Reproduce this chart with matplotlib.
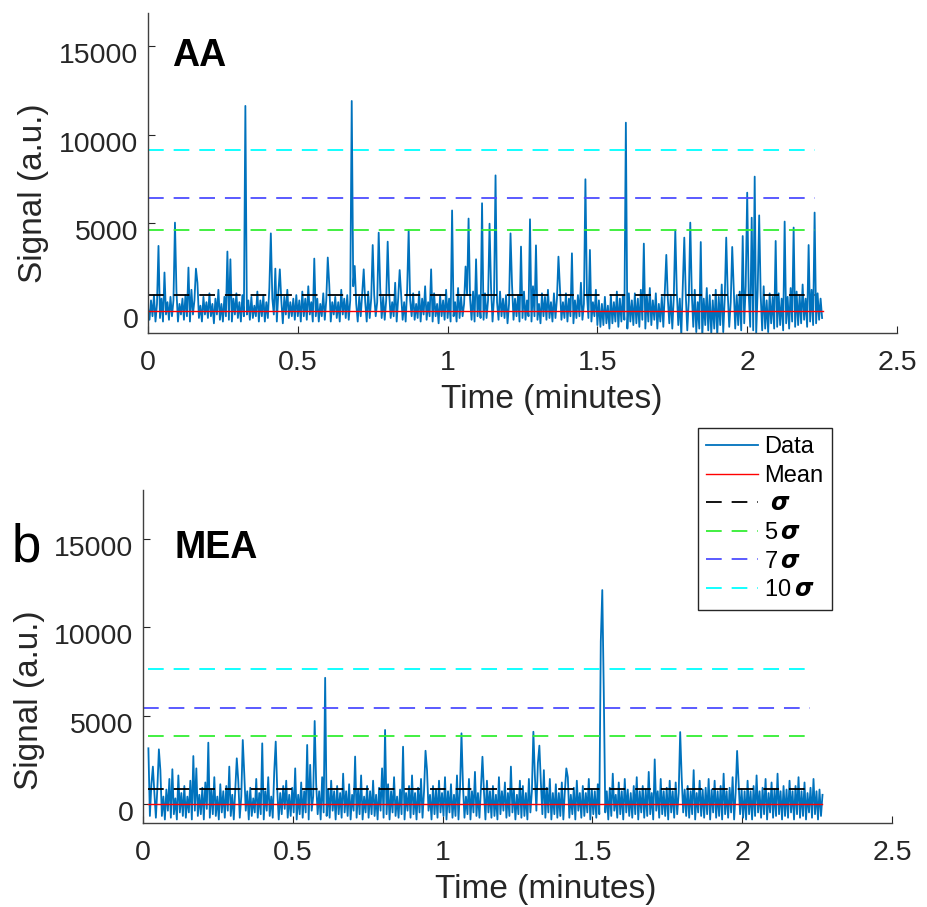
import numpy as np
import matplotlib.pyplot as plt
from matplotlib.transforms import ScaledTranslation

plt.rcParams['font.family'] = ['Liberation Sans', 'DejaVu Sans']
plt.rcParams['mathtext.fontset'] = 'dejavusans'
plt.rcParams['path.simplify'] = False  # keep every sample of the noisy traces

# sampling step of the traces (minutes)
dt = 0.005

# ---- panel a (AA) ----
a_t0 = 0.0
a_noise = [
    200, -500, 600, -300, 900, -600, 400, 1300, -400, 700, -600, 1500, -200, 500, -500, 800, -300, 600, -400, 1100, -600, 400, -200, 700, -500,
    900, -300, 500, -600, 1200, -200, 600, -500, 1600, -400, 300, -600, 800, -200, 500, -400, 1000, -300, 400, -700, 700, -200, 1200, -500, 400,
    -600, 800, -300, 1400, -500, 400, -600, 700, -200, 1000, -400, 500, -600, 900, -300, 1700, -200, 600, -500, 800, -400, 300, -300, 1100, -600,
    600, -300, 900, -600, 500, -400, 1300, -500, 700, -200, 400, -600, 1000, -300, 600, -700, 800, -200, 1200, -400, 500, -300, 700, -500, 900,
    -300, 600, -600, 1100, -300, 700, -500, 1400, -200, 500, -600, 900, -300, 700, -600, 400, -300, 1000, -500, 600, -300, 1500, -600, 500, -200,
    800, -400, 500, -600, 1200, -200, 700, -400, 900, -500, 600, -200, 1400, -500, 400, -600, 800, -300, 1000, -300, 500, -600, 1100, -400, 700,
    -500, 900, -300, 500, -600, 1300, -400, 800, -500, 600, -200, 1000, -400, 500, -300, 1600, -600, 700, -200, 900, -500, 500, -600, 1200, -300,
    600, -300, 1000, -500, 400, -400, 1100, -600, 700, -200, 1400, -500, 500, -300, 800, -600, 1000, -300, 400, -700, 900, -300, 600, -500, 1200,
    -400, 700, -600, 1000, -300, 500, -600, 1300, -400, 800, -300, 400, -600, 900, -200, 700, -500, 1100, -600, 600, -300, 900, -400, 500, -500,
    1000, -400, 600, -300, 1300, -600, 800, -300, 500, -500, 1100, -300, 700, -400, 900, -700, 400, -300, 1500, -500, 700, -300, 900, -600, 500,
    -400, 1100, -500, 600, -300, 900, -600, 1400, -300, 700, -500, 400, -700, 1000, -300, 800, -500, 1200, -400, 500, -600, 1000, -400, 700, -300,
    1300, -500, 500, -400, 1000, -600, 700, -300, 1100, -700, 600, -400, 900, -300, 1600, -500, 400, -800, 1000, -400, 800, -600, 500, -300, 1200,
    -800, 600, -900, 400, -800, 800, -700, 300, -1000, 900, -700, 500, -600, 1100, -900, 700, -600, 900, -500, 500, -1000, 1000, -600, 600, -800,
    1000, -700, 700, -900, 1200, -500, 500, -1000, 900, -600, 1300, -800, 600, -500, 1000, -1000, 400, -600, 800, -900, 1100, -400, 700, -700, 900,
    -1000, 800, -1200, 1100, -800, 700, -1400, 1400, -700, 900, -1100, 600, -1300, 1000, -900, 1200, -1200, 500, -1000, 900, -1500, 700, -800, 1300, -1100,
    900, -1300, 600, -1000, 1200, -1400, 800, -800, 1500, -1200, 700, -1100, 1000, -900, 500, -1300, 1300, -1000, 900, -800, 1100, -1100, 600, -700, 1400,
    -1200, 1000, -900, 1600, -1100, 700, -1300, 1200, -800, 900, -1100, 1400, -1000, 600, -1200, 1000, -700, 800, -1000, 1300, -900, 1000, -800, 700, -1100,
    1000, -700, 800, -1000, 1300, -600, 600, -900, 1100, -800, 900, -700, 1500, -500, 700, -900, 1000, -600, 1200, -800, 800, -700, 1000, -500, 700,
    -400,
]
a_spike_t = [0.037, 0.057, 0.088, 0.135, 0.162, 0.266, 0.277, 0.324, 0.411, 0.424,
             0.438, 0.557, 0.600, 0.680, 0.690, 0.722, 0.749, 0.771, 0.798, 0.840,
             0.868, 0.945, 1.017, 1.058, 1.070, 1.097, 1.114, 1.139, 1.158, 1.212,
             1.247, 1.273, 1.295, 1.368, 1.417, 1.459, 1.474, 1.596, 1.655, 1.731,
             1.759, 1.788, 1.810, 1.846, 1.930, 1.950, 1.984, 1.998, 2.015, 2.026,
             2.040, 2.094, 2.123, 2.156, 2.204, 2.223]
a_spike_val = [3690, 2180, 5010, 2460, 2400, 3370, 2930, 11630, 4400, 2400,
               2360, 2970, 3030, 11910, 2550, 2360, 3740, 4440, 3930, 2320,
               4590, 2360, 5700, 2520, 5240, 2930, 6110, 4950, 7690, 4400,
               3650, 5200, 3720, 3080, 3270, 7470, 3460, 10680, 3820, 3180,
               4590, 4160, 5010, 3910, 4160, 3630, 4250, 6710, 5290, 7620,
               5420, 3970, 5070, 4730, 3740, 5580]
a_mean = 0
a_thresholds = [900, 4580, 6380, 9110]
a_line_span = [(0.0, 2.226)] * 4
a_mean_span = (0.0, 2.253)

# ---- panel b (MEA) ----
b_t0 = 0.018
b_noise = [
    0, -700, 1100, -500, 600, -800, 900, -300, 1900, -700, 400, -900, 800, -400, 1400, -800, 700, -600, 300, -900, 1600, -500, 600, -700, 1000,
    -800, 400, -500, 1300, -900, 700, -400, 2000, -700, 500, -600, 900, -900, 1200, -300, 600, -800, 800, -600, 1500, -700, 400, -900, 1100, -500,
    700, -800, 1000, -400, 2100, -700, 500, -900, 800, -500, 1300, -800, 400, -600, 1700, -400, 700, -900, 900, -700, 300, -500, 1400, -800, 600,
    -600, 1100, -900, 700, -400, 1500, -700, 400, -800, 1800, -500, 800, -900, 600, -600, 1000, -300, 1300, -800, 500, -700, 900, -500, 2000, -900,
    500, -600, 1200, -800, 700, -500, 900, -900, 2200, -400, 400, -800, 1100, -600, 700, -900, 1500, -500, 600, -700, 800, -800, 1300, -400, 700,
    -900, 1000, -600, 600, -800, 1700, -500, 700, -700, 1100, -900, 500, -400, 1400, -800, 800, -600, 1600, -900, 400, -500, 1000, -800, 700, -600,
    1300, -700, 500, -900, 900, -400, 2000, -800, 600, -600, 1100, -900, 700, -500, 1500, -700, 400, -800, 800, -600, 1200, -900, 600, -400, 1000,
    -800, 1600, -600, 600, -900, 900, -500, 1400, -800, 700, -700, 1900, -400, 500, -900, 1000, -600, 800, -800, 1300, -500, 600, -700, 1500, -900,
    700, -500, 1100, -800, 500, -700, 1600, -900, 800, -400, 1000, -800, 400, -600, 1400, -900, 700, -500, 1800, -700, 600, -800, 900, -600, 700,
    -900, 1300, -500, 700, -800, 1000, -700, 500, -900, 1500, -600, 700, -400, 1200, -800, 600, -700, 2100, -500, 800, -900, 500, -600, 1300, -800,
    1000, -700, 600, -900, 1400, -500, 700, -800, 1600, -400, 2300, -700, 1200, -600, 1900, -800, 900, -500, 1400, -900, 600, -600, 1100, -800, 600,
    -700, 1200, -900, 700, -500, 1500, -800, 500, -600, 900, -900, 1300, -400, 600, -800, 1000, -700, 600, -500, 1400, -900, 800, -600, 700, -800,
    1100, -600, 600, -800, 1300, -500, 700, -900, 900, -700, 1700, -400, 500, -800, 1200, -600, 700, -900, 1400, -500, 800, -700, 600, -800, 1000,
    -600, 1500, -900, 700, -500, 1000, -800, 800, -700, 1800, -600, 600, -900, 1200, -400, 700, -800, 1400, -600, 700, -700, 900, -900, 1300, -500,
    700, -800, 1200, -600, 600, -900, 1500, -500, 800, -700, 1000, -800, 700, -600, 1900, -900, 600, -500, 1300, -700, 800, -800, 900, -600, 1400,
    -900, 800, -500, 1300, -800, 700, -700, 1000, -900, 1700, -600, 700, -800, 900, -500, 1500, -900, 600, -700, 1200, -600, 800, -800, 700, -900,
    1300, -600, 700, -900, 1000, -700, 1600, -500, 700, -800, 900, -600, 1400, -900, 600, -500, 1200, -800, 800, -700, 1700, -600, 700, -900, 1000,
    -700, 800, -800, 1300, -500, 700, -900, 1000, -600, 1500, -800, 700, -700, 1200, -900, 600, -500, 900, -800, 1400, -600, 700, -900, 800, -700,
    500,
]
b_spike_t = [0.018, 0.034, 0.051, 0.099, 0.168, 0.218, 0.312, 0.332, 0.398, 0.441,
             0.549, 0.572, 0.609, 0.710, 0.810, 0.868, 0.943, 1.062, 1.134, 1.304,
             1.323, 1.412, 1.526, 1.531, 1.536, 1.708, 1.793, 1.985]
b_spike_val = [3140, 2100, 3080, 1950, 2700, 3460, 2570, 3610, 3420, 3520,
               3330, 4690, 7140, 2670, 4180, 3230, 3000, 3990, 2660, 4080,
               3290, 2000, 9200, 12120, 6300, 2510, 4060, 2990]
b_mean = 0
b_thresholds = [810, 3860, 5420, 7660]
b_line_span = [(0.018, 2.24), (0.018, 2.24), (0.0, 2.226), (0.018, 2.24)]
b_mean_span = (0.018, 2.268)

thr_labels = [r' $\boldsymbol{\sigma}$', r'5$\,\boldsymbol{\sigma}$',
              r'7$\,\boldsymbol{\sigma}$', r'10$\,\boldsymbol{\sigma}$']
thr_colors = ['black', '#33ee33', '#4d4dff', '#00ffff']
x_ticks = [0, 0.5, 1, 1.5, 2, 2.5]
x_ticklabels = ['0', '0.5', '1', '1.5', '2', '2.5']
y_ticks = [0, 5000, 10000, 15000]

data_color = '#0072BD'
axis_color = '#262626'


def build_trace(t0, noise, spike_t, spike_val):
    y = np.array(noise, dtype=float)
    t = t0 + dt * np.arange(len(y))
    for ts, v in zip(spike_t, spike_val):
        y[int(round((ts - t0) / dt))] = v
    return t, y


def draw_panel(ax, t, y, mean, mean_span, thresholds, spans, name, ylim,
               xlab_pos, ylab_pos, name_pos):
    handles = []
    handles += ax.plot(t, y, color=data_color, lw=1.3, label='Data')
    handles += ax.plot(mean_span, [mean, mean], color='red', lw=1.0, label='Mean')
    for v, sp, c, lab in zip(thresholds, spans, thr_colors, thr_labels):
        handles += ax.plot(sp, [v, v], color=c, lw=1.3, dashes=(8.7, 5.5), label=lab)

    ax.set_xlim(0, 2.5)
    ax.set_ylim(*ylim)
    ax.set_xticks(x_ticks)
    ax.set_xticklabels(x_ticklabels)
    ax.set_yticks(y_ticks)
    for s in ['top', 'right']:
        ax.spines[s].set_visible(False)
    for s in ['left', 'bottom']:
        ax.spines[s].set_color('#404040')
        ax.spines[s].set_linewidth(1.0)
    ax.tick_params(direction='in', length=5, width=0.8, labelsize=20.5, colors=axis_color)
    ax.tick_params(axis='y', pad=7)
    ax.tick_params(axis='x', pad=12)
    # MATLAB puts the y labels slightly below the tick
    for lab in ax.get_yticklabels():
        lab.set_transform(lab.get_transform() + ScaledTranslation(0, -7 / 100, ax.figure.dpi_scale_trans))

    ax.set_xlabel('Time (minutes)', fontsize=24, color=axis_color, va='center')
    ax.xaxis.set_label_coords(*xlab_pos)
    ax.set_ylabel('Signal (a.u.)', fontsize=24, color=axis_color, va='center')
    ax.yaxis.set_label_coords(*ylab_pos)

    ax.text(name_pos[0], name_pos[1], name, transform=ax.transAxes,
            fontsize=27, fontweight='bold', va='center', ha='left')
    return handles


fig = plt.figure(figsize=(9.27, 9.07), dpi=100)
W, H = 927, 907

ax_a = fig.add_axes([148 / W, 1 - 333 / H, 749 / W, 320 / H])
ax_b = fig.add_axes([143 / W, 1 - 823 / H, 749 / W, 333 / H])

ta, ya = build_trace(a_t0, a_noise, a_spike_t, a_spike_val)
tb, yb = build_trace(b_t0, b_noise, b_spike_t, b_spike_val)

draw_panel(ax_a, ta, ya, a_mean, a_mean_span, a_thresholds, a_line_span, 'AA',
           (-1250, 16900), (0.539, -0.209), (-0.1535, 0.4375), (0.032, 0.866))
handles = draw_panel(ax_b, tb, yb, b_mean, b_mean_span, b_thresholds, b_line_span, 'MEA',
                     (-1100, 17800), (0.538, -0.201), (-0.151, 0.369), (0.0427, 0.826))

fig.text(12 / W, 1 - 562 / H, 'b', fontsize=38, va='baseline', ha='left')

leg = fig.legend(handles, [h.get_label() for h in handles], loc='upper left',
                 bbox_to_anchor=(698 / W, 1 - 428 / H), fontsize=17, frameon=True,
                 fancybox=False, edgecolor=axis_color, framealpha=1,
                 handlelength=2.2, handletextpad=0.25, borderpad=0.35,
                 labelspacing=0.28, borderaxespad=0)
leg.get_frame().set_linewidth(1.0)

fig.savefig('out.png', dpi=100)
